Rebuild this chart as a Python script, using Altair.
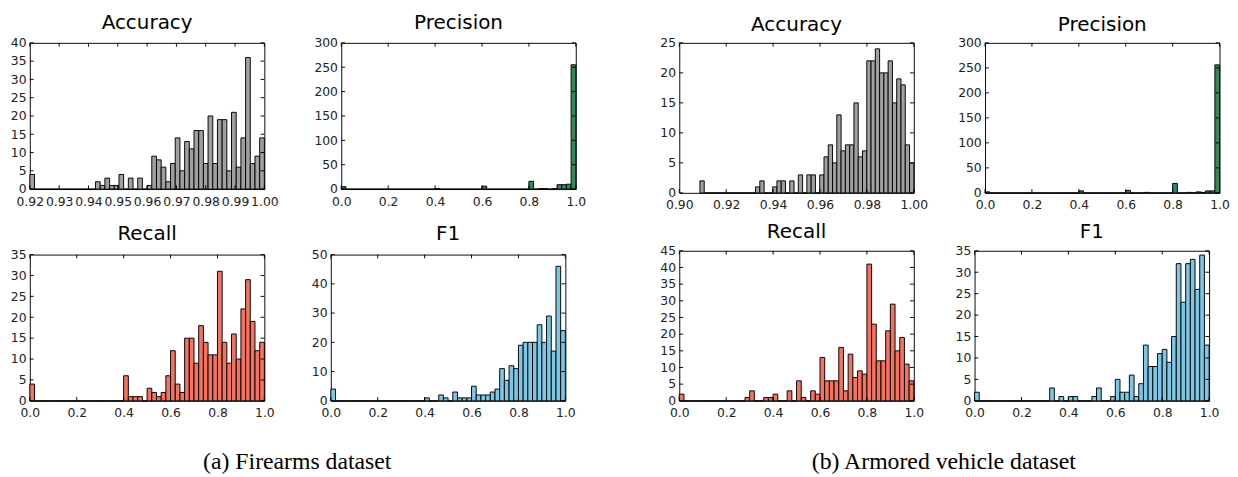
import altair as alt
import numpy as np
import pandas as pd

N_BINS = 50

# ---- (a) Firearms dataset: histogram counts, 50 bins each ----
fa_acc = [4, 0, 0, 0, 0, 0, 0, 0, 0, 0, 0, 0, 0, 0,
          2, 1, 3, 1, 1, 4, 0, 3, 0, 3, 0, 1,
          9, 8, 6, 2, 7, 14, 5, 13, 11, 16, 16, 7, 20, 7, 19, 19, 5, 21, 6, 14, 36, 7, 9, 14]
fa_prec = [5, 0, 0, 0, 0, 0, 0, 0, 0, 0, 0, 0, 0, 0, 0, 0, 0, 0, 0, 0,
           1, 0, 0, 0, 0, 0, 0, 0, 0, 0, 6, 0, 0, 0, 0, 0, 0, 0, 0, 0,
           16, 0, 1, 1, 0, 1, 9, 9, 10, 255]
fa_rec = [4, 0, 0, 0, 0, 0, 0, 0, 0, 0, 0, 0, 0, 0, 0, 0, 0, 0, 0, 0,
          6, 1, 1, 1, 0, 3, 2, 1, 2, 6, 12, 4, 2, 15, 15, 9, 18, 14, 11, 11,
          31, 14, 9, 16, 10, 22, 29, 19, 12, 14]
fa_f1 = [4, 0, 0, 0, 0, 0, 0, 0, 0, 0, 0, 0, 0, 0, 0, 0, 0, 0, 0, 0,
         1, 0, 0, 2, 1, 0, 3, 1, 1, 1, 5, 2, 2, 2, 3, 4, 11, 7, 12, 11,
         19, 20, 20, 20, 26, 20, 29, 17, 46, 24]

# ---- (b) Armored vehicle dataset ----
ar_acc = [2, 0, 0, 0, 0, 0, 0, 0, 0, 0, 0, 0, 0, 1, 2, 0, 0, 1, 2, 2,
          0, 2, 0, 3, 0, 3, 3, 0, 3, 6, 8, 5, 13, 7, 8, 8, 15, 6, 7, 22,
          22, 24, 20, 20, 22, 15, 19, 18, 8, 5]
ar_prec = [2, 0, 0, 0, 0, 0, 0, 0, 0, 0, 0, 0, 0, 0, 0, 0, 0, 0, 0, 0,
           4, 0, 0, 0, 0, 0, 0, 0, 0, 0, 5, 0, 0, 0, 1, 0, 0, 0, 0, 0,
           19, 0, 0, 1, 0, 2, 1, 4, 4, 256]
ar_rec = [2, 0, 0, 0, 0, 0, 0, 0, 0, 0, 0, 0, 0, 0, 1, 3, 0, 0, 1, 1,
          2, 0, 0, 3, 0, 6, 1, 0, 3, 2, 13, 6, 6, 6, 16, 3, 14, 7, 9, 8,
          41, 23, 12, 12, 21, 29, 15, 19, 11, 6]
ar_f1 = [2, 0, 0, 0, 0, 0, 0, 0, 0, 0, 0, 0, 0, 0, 0, 0, 3, 0, 1, 0,
         1, 1, 0, 0, 0, 1, 3, 0, 0, 1, 5, 2, 2, 6, 1, 4, 13, 8, 8, 11,
         12, 9, 15, 32, 23, 32, 33, 26, 34, 13]

# bin ranges (data min .. data max) and axis settings
fa_acc_range = (0.92, 1.00)
ar_acc_range = (0.9088, 1.00)
unit_range = (0.0, 1.0)

fa_acc_xticks = [0.92, 0.93, 0.94, 0.95, 0.96, 0.97, 0.98, 0.99, 1.00]
ar_acc_xticks = [0.90, 0.92, 0.94, 0.96, 0.98, 1.00]
unit_xticks = [0.0, 0.2, 0.4, 0.6, 0.8, 1.0]

titles = ["Accuracy", "Precision", "Recall", "F1"]
captions = ["(a) Firearms dataset", "(b) Armored vehicle dataset"]
colors = ["#a0a0a0", "#2e8b57", "#f4735f", "#7cc6e6"]

FONT = "DejaVu Sans"


def frame(counts, rng):
    edges = np.linspace(rng[0], rng[1], N_BINS + 1)
    return pd.DataFrame({"x0": edges[:-1], "x1": edges[1:], "count": counts,
                         "base": [0] * N_BINS})


def panel(counts, rng, title, color, xdom, xticks, xfmt, ymax, ystep, w, h, toff):
    yticks = list(range(0, ymax + 1, ystep))
    xs = alt.Scale(domain=list(xdom), nice=False, zero=False, padding=0)
    ys = alt.Scale(domain=[0, ymax], nice=False, padding=0)
    xax = alt.Axis(values=xticks, format=xfmt, title=None)
    yax = alt.Axis(values=yticks, format="d", title=None)
    bars = alt.Chart(frame(counts, rng)).mark_rect(
        color=color, stroke="black", strokeWidth=1, opacity=1
    ).encode(
        x=alt.X("x0:Q", scale=xs, axis=xax),
        x2="x1:Q",
        y=alt.Y("count:Q", scale=ys, axis=yax),
        y2="base:Q",
    )
    xdf = pd.DataFrame({"x0": xticks})
    ydf = pd.DataFrame({"count": yticks})
    tb = alt.Chart(xdf).mark_rule(color="black", strokeWidth=1).encode(
        x=alt.X("x0:Q", scale=xs, axis=xax), y=alt.value(h), y2=alt.value(h - 4))
    tt = alt.Chart(xdf).mark_rule(color="black", strokeWidth=1).encode(
        x=alt.X("x0:Q", scale=xs, axis=xax), y=alt.value(0), y2=alt.value(4))
    tl = alt.Chart(ydf).mark_rule(color="black", strokeWidth=1).encode(
        y=alt.Y("count:Q", scale=ys, axis=yax), x=alt.value(0), x2=alt.value(4))
    tr = alt.Chart(ydf).mark_rule(color="black", strokeWidth=1).encode(
        y=alt.Y("count:Q", scale=ys, axis=yax), x=alt.value(w), x2=alt.value(w - 4))
    return alt.layer(bars, tb, tt, tl, tr).properties(
        width=w, height=h,
        title=alt.TitleParams(title, fontSize=21, font=FONT, fontWeight="normal",
                              frame="group", offset=toff, color="black"),
    )


W = 247
HA, HB = 154, 158

a_acc = panel(fa_acc, fa_acc_range, titles[0], colors[0], (0.92, 1.00), fa_acc_xticks, ".2f", 40, 5, W, HA, 5)
a_prec = panel(fa_prec, unit_range, titles[1], colors[1], (0, 1), unit_xticks, ".1f", 300, 50, W, HA, 5)
a_rec = panel(fa_rec, unit_range, titles[2], colors[2], (0, 1), unit_xticks, ".1f", 35, 5, W, HA, 5)
a_f1 = panel(fa_f1, unit_range, titles[3], colors[3], (0, 1), unit_xticks, ".1f", 50, 10, W, HA, 5)

b_acc = panel(ar_acc, ar_acc_range, titles[0], colors[0], (0.90, 1.00), ar_acc_xticks, ".2f", 25, 5, W, HB, 3)
b_prec = panel(ar_prec, unit_range, titles[1], colors[1], (0, 1), unit_xticks, ".1f", 300, 50, W, HB, 3)
b_rec = panel(ar_rec, unit_range, titles[2], colors[2], (0, 1), unit_xticks, ".1f", 45, 5, W, HB, 3)
b_f1 = panel(ar_f1, unit_range, titles[3], colors[3], (0, 1), unit_xticks, ".1f", 35, 5, W, HB, 3)


def caption(text):
    return alt.TitleParams(text, orient="bottom", font="Liberation Serif", fontSize=25,
                           fontWeight="normal", offset=31, color="black", anchor="middle")


group_a = alt.vconcat(
    alt.hconcat(a_acc, a_prec, spacing=36),
    alt.hconcat(a_rec, a_f1, spacing=36),
    spacing=15, title=caption(captions[0]),
)
group_b = alt.vconcat(
    alt.hconcat(b_acc, b_prec, spacing=30),
    alt.hconcat(b_rec, b_f1, spacing=30),
    spacing=9, title=caption(captions[1]),
)

chart = alt.hconcat(group_a, group_b, spacing=75).properties(
    padding={"left": 0, "top": -9, "right": 0, "bottom": 0}, background="white"
).configure_view(
    stroke="black", strokeWidth=1
).configure_axis(
    domain=False, ticks=False, grid=False,
    labelFont=FONT, labelFontSize=13, labelColor="#222222",
    labelPadding=4, labelFlush=False, labelOverlap=False,
).configure_axisX(
    labelPadding=7,
).configure_axisY(
    minExtent=22, maxExtent=22,
).configure_concat(spacing=10)

chart.save("out.html", embed_options={"renderer": "svg", "actions": False})
